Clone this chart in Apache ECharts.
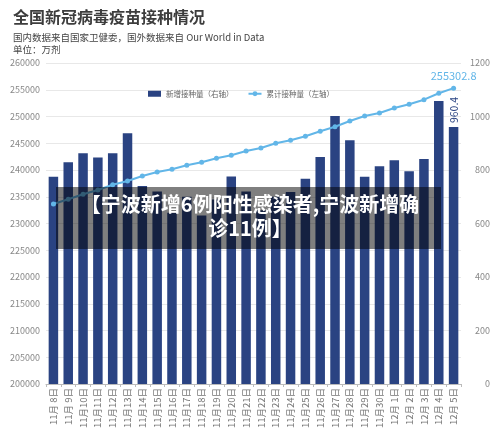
<!DOCTYPE html>
<html><head><meta charset="utf-8">
<script src="https://cdn.jsdelivr.net/npm/echarts@6/dist/echarts.min.js"></script>
<style>html,body{margin:0;padding:0;background:#fff}#c{width:500px;height:437px}</style>
</head><body><div id="c"></div>
<script>
const categories = ['11月 8日','11月 9日','11月10日','11月11日','11月12日','11月13日','11月14日','11月15日','11月16日','11月17日','11月18日','11月19日','11月20日','11月21日','11月22日','11月23日','11月24日','11月25日','11月26日','11月27日','11月28日','11月29日','11月30日','12月 1日','12月 2日','12月 3日','12月 4日','12月 5日'];
const dailyDoses = [775,829,863,847,863,937,740,720,640,700,630,690,776,720,650,700,718,767,849,1002,911,775,814,836,795,841,1058,960.4];
const cumulativeDoses = [233646,234524,235459,236262,237253,237945,238879,239627,240131,240880,241440,242188,242749,243552,244113,244991,245552,246300,247235,248095,249160,250095,250655,251590,252281,253142,254338,255302.8];
const leftTicks = {min:200000, max:260000, interval:5000};
const rightTicks = {min:0, max:1200, interval:200};
const titleText = '全国新冠病毒疫苗接种情况';
const subText = '国内数据来自国家卫健委，国外数据来自 Our World in Data\n单位：万剂';
const bannerText = '【宁波新增6例阳性感染者,宁波新增确\n诊11例】';

const FONT = '"Noto Sans CJK SC","Noto Sans",sans-serif';
const BAR = '#2a4382', LINE = '#62b6e8';
const chart = echarts.init(document.getElementById('c'));
const last = dailyDoses.length - 1;
chart.setOption({
  backgroundColor:'#fff',
  textStyle:{fontFamily:FONT},
  title:{text:titleText, subtext:subText, left:8, top:4,
    textStyle:{fontSize:16, fontWeight:'bold', color:'#3d3d3d', fontFamily:FONT},
    subtextStyle:{fontSize:9.5, color:'#444', lineHeight:12, fontFamily:FONT}, itemGap:6},
  legend:{left:143, top:85, itemWidth:13, itemHeight:6, itemGap:14,
    textStyle:{fontSize:7.5, color:'#666', fontFamily:FONT},
    data:[{name:'新增接种量（右轴）', icon:'rect'},{name:'累计接种量（左轴）'}]},
  grid:{left:46, right:39, top:63, bottom:53},
  xAxis:{type:'category', data:categories,
    axisLine:{lineStyle:{color:'#bbb'}}, axisTick:{show:true, length:3, lineStyle:{color:'#bbb'}},
    axisLabel:{rotate:90, interval:0, fontSize:9.5, color:'#777', margin:4, fontFamily:FONT}},
  yAxis:[
    {type:'value', min:leftTicks.min, max:leftTicks.max, interval:leftTicks.interval,
     axisLabel:{fontSize:9, color:'#888', margin:6, formatter:v=>String(v)}, axisLine:{show:false}, axisTick:{show:false},
     splitLine:{lineStyle:{color:'#e8e8e8'}}},
    {type:'value', min:rightTicks.min, max:rightTicks.max, interval:rightTicks.interval, position:'right',
     axisLabel:{fontSize:9, color:'#888', align:'right', margin:29, formatter:v=>String(v)}, axisLine:{show:false}, axisTick:{show:false},
     splitLine:{show:false}}
  ],
  series:[
    {name:'新增接种量（右轴）', type:'bar', yAxisIndex:1, data:dailyDoses.map((v,i)=> i===last ? {value:v, label:{show:true}} : v),
     barWidth:9.5, itemStyle:{color:BAR},
     label:{show:false, position:'top', rotate:90, align:'left', verticalAlign:'middle', distance:4,
       fontSize:10.5, color:BAR, formatter:p=>String(p.value)}},
    {name:'累计接种量（左轴）', type:'line', yAxisIndex:0, data:cumulativeDoses.map((v,i)=> i===last ? {value:v, label:{show:true}} : v),
     symbol:'circle', symbolSize:5, lineStyle:{width:2, color:LINE}, itemStyle:{color:LINE}, z:5,
     label:{show:false, position:'top', distance:4, fontSize:11, color:LINE, formatter:p=>String(p.value)}}
  ],
  graphic:[
    {type:'rect', left:56, top:187, shape:{width:385, height:62}, style:{fill:'rgba(0,0,0,0.5)'}, z:100},
    {type:'text', left:'center', top:192, z:101,
     style:{text:bannerText, fill:'#fff', font:'bold 20px '+FONT, textAlign:'center', lineHeight:24}}
  ]
});
</script></body></html>
